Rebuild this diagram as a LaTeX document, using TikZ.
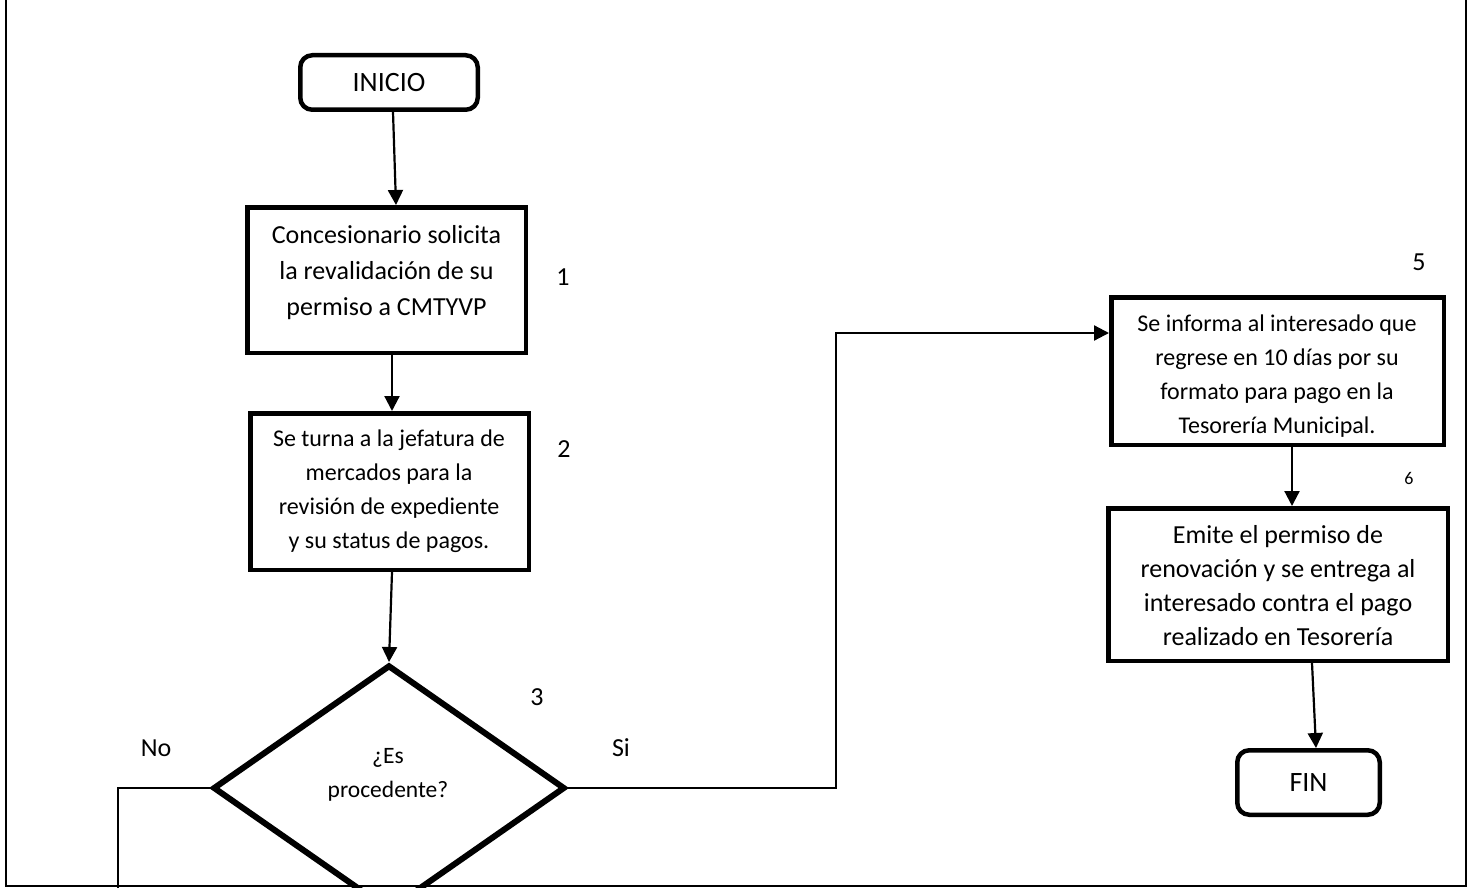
\documentclass[tikz,border=0pt]{standalone}
\usepackage{fontspec}
\setmainfont{Carlito}
\usetikzlibrary{shapes.geometric,arrows.meta}
\begin{document}
\begin{tikzpicture}[x=1pt,y=-1pt,
  every node/.style={text=black},
  term/.style={draw,line width=4.5pt,rounded corners=12pt,inner sep=0pt,font=\fontsize{28}{34}\selectfont},
  proc/.style={draw,line width=4.5pt,inner sep=0pt},
  txt/.style={align=center,inner sep=0pt},
  dec/.style={draw,line width=6pt,diamond,minimum width=352pt,minimum height=246pt,inner sep=0pt},
  arr/.style={line width=2.2pt,-{Triangle[length=15pt,width=15pt]}},
  conn/.style={line width=2.2pt},
  num/.style={font=\fontsize{26}{30}\selectfont,inner sep=0pt},
  frame/.style={line width=2.5pt},
]
\useasboundingbox (0,0) rectangle (1469,888);
\clip (0,0) rectangle (1469,888);

% frame (open at top)
\coordinate (ftl) at (6,-20);
\coordinate (fbl) at (6,886);
\coordinate (fbr) at (1466,886);
\coordinate (ftr) at (1466,-20);
\draw[frame] (ftl) -- (fbl) -- (fbr) -- (ftr);

% nodes
\node[term,minimum width=177.5pt,minimum height=54.5pt] (inicio) at (389,82.5) {INICIO};

\node[proc,minimum width=278.5pt,minimum height=145.5pt] (b1) at (386.5,280) {};
\node[txt,font=\fontsize{26}{36}\selectfont] (t1) at (386.5,273)
  {Concesionario solicita\\la revalidación de su\\permiso a CMTYVP};

\node[proc,minimum width=278.5pt,minimum height=156.5pt] (b2) at (389.5,491.5) {};
\node[txt,font=\fontsize{24}{34}\selectfont] (t2) at (389,491)
  {Se turna a la jefatura de\\mercados para la\\revisión de expediente\\y su status de pagos.};

\node[dec] (dia) at (389,788) {};
\node[txt,font=\fontsize{23.5}{34}\selectfont] (tdia) at (388,775) {¿Es\\procedente?};

\node[proc,minimum width=332.5pt,minimum height=147.5pt] (b5) at (1277.5,371) {};
\node[txt,font=\fontsize{24}{34}\selectfont] (t5) at (1277,376)
  {Se informa al interesado que\\regrese en 10 días por su\\formato para pago en la\\Tesorería Municipal.};

\node[proc,minimum width=339.5pt,minimum height=152.5pt] (b6) at (1278,584.5) {};
\node[txt,font=\fontsize{26}{34}\selectfont] (t6) at (1278,586)
  {Emite el permiso de\\renovación y se entrega al\\interesado contra el pago\\realizado en Tesorería};

\node[term,minimum width=142.5pt,minimum height=64.5pt] (fin) at (1308.5,782.5) {FIN};

% numbers and labels
\node[num] (n1) at (563,277) {1};
\node[num] (n2) at (564,449) {2};
\node[num] (n3) at (537,697) {3};
\node[num] (n5) at (1419,262) {5};
\node[num,font=\fontsize{18}{22}\selectfont] (n6) at (1409,478) {6};
\node[num] (lno) at (156,748) {No};
\node[num] (lsi) at (621,748) {Si};

% connectors
\draw[arr] ([xshift=4pt]inicio.south) -- ([xshift=9.5pt]b1.north);
\draw[arr] ([xshift=5.5pt]b1.south) -- ([xshift=2.5pt]b2.north);
\draw[arr] ([xshift=2.5pt]b2.south) -- (dia.north);
\coordinate (sicol) at (836,500);
\draw[arr] (dia.east) -- (dia.east -| sicol) |- ([yshift=38pt]b5.west);
\coordinate (noend) at (118,900);
\draw[conn] (dia.west) -| (noend);
\draw[arr] ([xshift=14.5pt]b5.south) -- ([xshift=14pt]b6.north);
\draw[arr] ([xshift=34pt]b6.south) -- ([xshift=7.5pt]fin.north);
\end{tikzpicture}
\end{document}
